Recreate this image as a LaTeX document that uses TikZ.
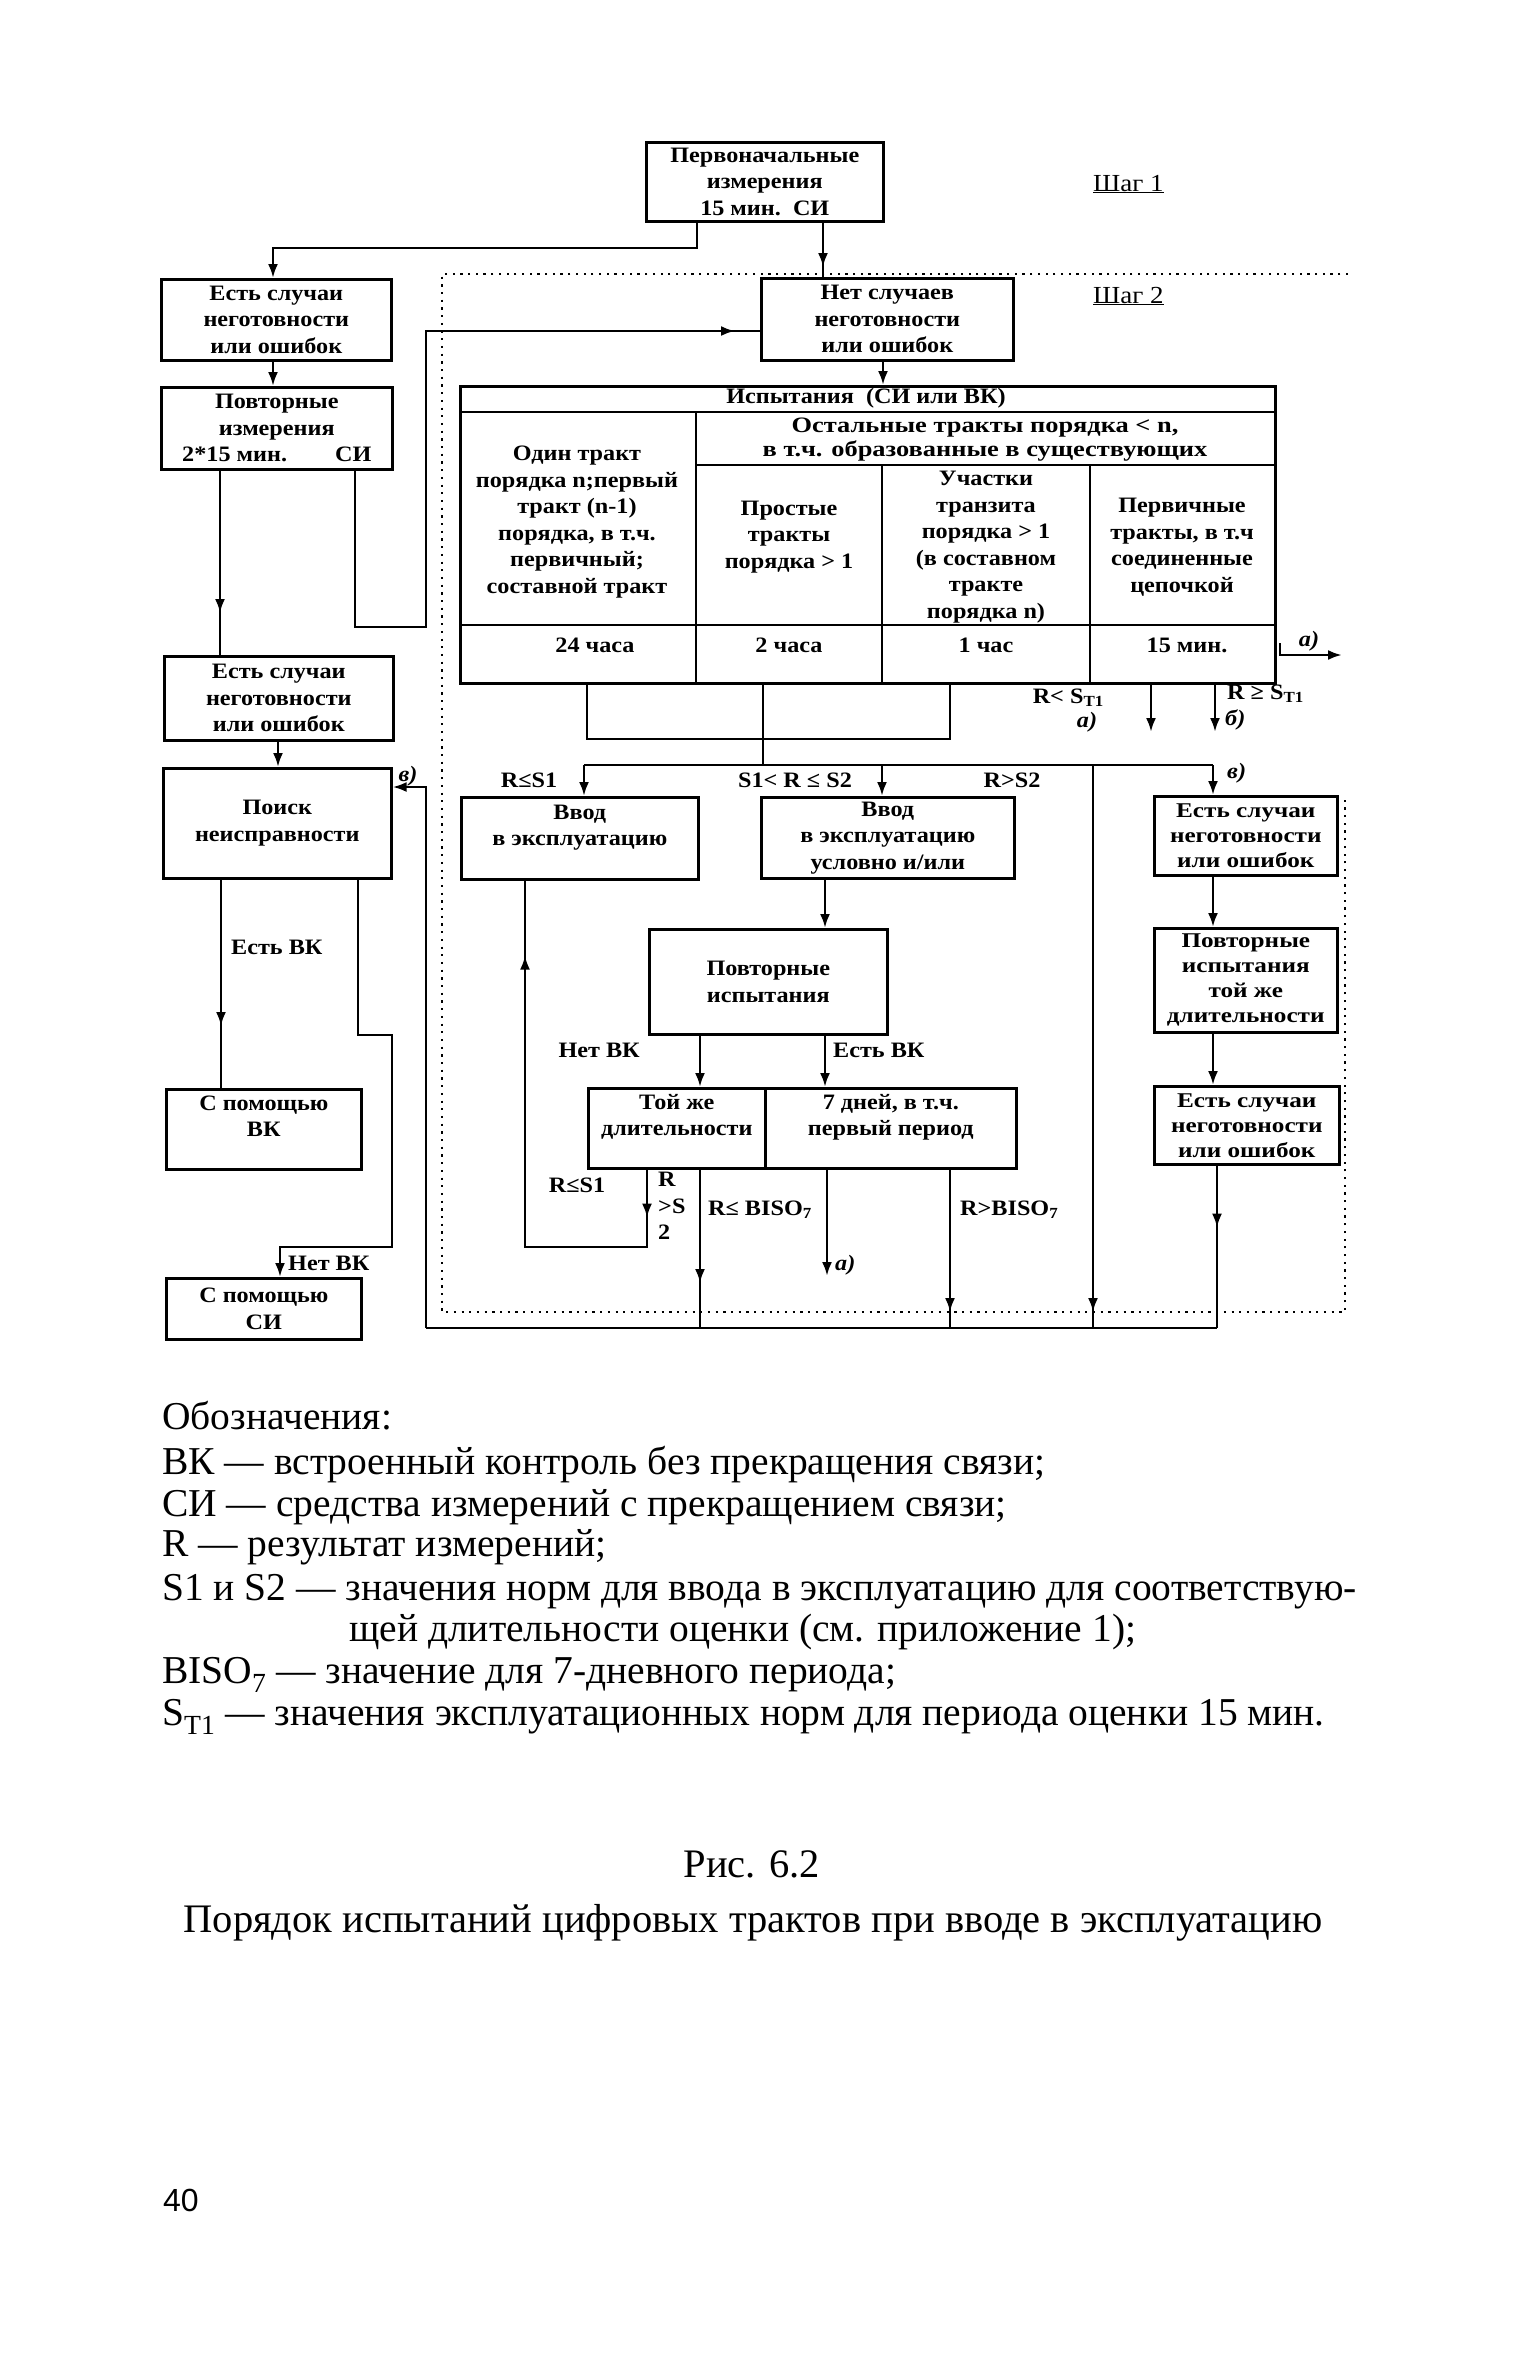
\documentclass[tikz,border=0pt]{standalone}
\usepackage{fontspec}
\setmainfont{Liberation Serif}
\newfontfamily\dfont[FakeStretch=1.1]{Liberation Serif}
\newfontfamily\dfontw[FakeStretch=1.2]{Liberation Serif}
\newfontfamily\legfont{Liberation Serif}
\newfontfamily\pagefont{Liberation Sans}
\usetikzlibrary{arrows.meta,decorations.markings}
\newcommand\bxf{\dfont\bfseries\fontsize{22}{26.5}\selectfont}
\newcommand\rbf{\dfontw\bfseries\fontsize{21}{25}\selectfont}
\newcommand\itf{\dfont\bfseries\itshape\fontsize{22}{26}\selectfont}
\newcommand\lgf{\legfont\fontsize{39.5}{42}\selectfont}
\tikzset{
  >={Latex[length=14pt,width=10pt]},
  ln/.style={line width=2.6pt},
  arr/.style={ln,->},
  midarr/.style={ln,postaction={decorate},decoration={markings,mark=at position #1 with {\arrow{>}}}},
  bx/.style={draw,line width=2.6pt,inner sep=0pt,anchor=north west,align=center,font=\bxf},
  rbx/.style={bx,font=\rbf},
  lbl/.style={inner sep=0pt,align=center,font=\bxf},
  ilbl/.style={inner sep=0pt,font=\itf},
  leg/.style={inner sep=0pt,anchor=base west,font=\lgf},
  dots/.style={line width=2.2pt,dash pattern=on 2.2pt off 5.5pt},
}
\begin{document}
\begin{tikzpicture}[x=1pt,y=-1pt]
\useasboundingbox (0,0) rectangle (1539,2367);
\fill[white] (0,0) rectangle (1539,2367);

% ---------- boxes ----------
\node[bx,minimum width=237pt,minimum height=79pt] (top) at (645,141) {Первоначальные\\измерения\\15 мин.\ \ СИ};
\node[lbl,anchor=base west,font=\dfont\fontsize{24.5}{26}\selectfont] (s1) at (1093,191) {\underline{Шаг 1}};
\node[lbl,anchor=base west,font=\dfont\fontsize{24.5}{26}\selectfont] (s2) at (1093,303) {\underline{Шаг 2}};

\node[bx,minimum width=230pt,minimum height=81pt] (l1) at (160,278) {Есть случаи\\неготовности\\или ошибок};
\node[bx,minimum width=252pt,minimum height=82pt] (no) at (760,277) {Нет случаев\\неготовности\\или ошибок};
\node[bx,minimum width=231pt,minimum height=82pt] (l2) at (160,386) {Повторные\\измерения\\2*15 мин.\hspace{48pt}СИ};
\node[bx,minimum width=229pt,minimum height=84pt] (l3) at (163,655) {Есть случаи\\неготовности\\или ошибок};
\node[bx,minimum width=228pt,minimum height=110pt] (l4) at (162,767) {Поиск\\неисправности};
\node[bx,minimum width=195pt,minimum height=80pt] (l5) at (165,1088) {С помощью\\ВК\\\mbox{}};
\node[bx,minimum width=195pt,minimum height=61pt] (l6) at (165,1277) {С помощью\\СИ};

% ---------- table ----------
\node[draw,line width=2.6pt,inner sep=0pt,anchor=north west,minimum width=815pt,minimum height=297pt] (tbl) at (459,385) {};
\draw[ln] (459,412) -- (1274,412);
\draw[ln] (696,412) -- (696,682);
\draw[ln] (696,465) -- (1274,465);
\draw[ln] (882,465) -- (882,682);
\draw[ln] (1090,465) -- (1090,682);
\draw[ln] (459,625) -- (1274,625);
\node[lbl] (th) at (866,398) {Испытания\ \ (СИ или ВК)};
\node[lbl] (c1) at (577,522) {Один тракт\\порядка n;первый\\тракт (n-1)\\порядка, в т.ч.\\первичный;\\составной тракт};
\node[lbl,font=\dfontw\bfseries\fontsize{22}{24}\selectfont] (sh) at (985,440) {Остальные тракты порядка < n,\\в т.ч. образованные в существующих};
\node[lbl] (c2) at (789,537) {Простые\\тракты\\порядка > 1};
\node[lbl] (c3) at (986,547) {Участки\\транзита\\порядка > 1\\(в составном\\тракте\\порядка n)};
\node[lbl] (c4) at (1182,547) {Первичные\\тракты, в т.ч\\соединенные\\цепочкой};
\node[lbl] (t1) at (595,645) {24 часа};
\node[lbl] (t2) at (789,645) {2 часа};
\node[lbl] (t3) at (986,645) {1 час};
\node[lbl] (t4) at (1187,645) {15 мин.};

% ---------- middle & right boxes ----------
\node[bx,minimum width=237pt,minimum height=82pt] (vv1) at (460,796) {Ввод\\в эксплуатацию\\\mbox{}};
\node[bx,minimum width=253pt,minimum height=81pt] (vv2) at (760,796) {Ввод\\в эксплуатацию\\условно и/или};
\node[bx,minimum width=238pt,minimum height=105pt] (pov) at (648,928) {Повторные\\испытания};
\node[bx,minimum width=177pt,minimum height=80pt] (tj) at (587,1087) {Той же\\длительности\\\mbox{}};
\node[bx,minimum width=251pt,minimum height=80pt] (sd) at (764,1087) {7 дней, в т.ч.\\первый период\\\mbox{}};
\node[rbx,minimum width=183pt,minimum height=79pt] (r1) at (1153,795) {Есть случаи\\неготовности\\или ошибок};
\node[rbx,minimum width=183pt,minimum height=104pt] (r2) at (1153,927) {Повторные\\испытания\\той же\\длительности};
\node[rbx,minimum width=185pt,minimum height=78pt] (r3) at (1153,1085) {Есть случаи\\неготовности\\или ошибок};

% ---------- dotted frame ----------
\draw[dots] (1348,274) -- (442,274) -- (442,1312) -- (1345,1312) -- (1345,800);

% ---------- connectors ----------
\draw[arr] (697,0 |- top.south) -- (697,248) -- (273,248) -- (273,0 |- l1.north);
\draw[midarr=-10pt] (823,0 |- top.south) -- (823,0 |- no.north);
\draw[arr] (273,0 |- l1.south) -- (273,0 |- l2.north);
\draw[midarr=-42pt] (220,0 |- l2.south) -- (220,0 |- l3.north);
\draw[midarr=-25pt] (355,0 |- l2.south) -- (355,627) -- (426,627) -- (426,331) -- (no.west |- 0,331);
\draw[arr] (278,0 |- l3.south) -- (278,0 |- l4.north);
\draw[midarr=-62pt] (221,0 |- l4.south) -- (221,0 |- l5.north);
\draw[arr] (358,0 |- l4.south) -- (358,1035) -- (392,1035) -- (392,1247) -- (280,1247) -- (280,0 |- l6.north);
\draw[arr] (883,0 |- no.south) -- (883,0 |- tbl.north);

\coordinate (aout) at (1342,655);
\draw[arr] (1280,643) -- (1280,655) -- (aout);

\draw[ln] (587,0 |- tbl.south) -- (587,739) -- (950,739) -- (950,0 |- tbl.south);
\draw[ln] (763,0 |- tbl.south) -- (763,765);
\draw[ln] (584,765) -- (1213,765);
\draw[arr] (584,765) -- (584,0 |- vv1.north);
\draw[arr] (882,765) -- (882,0 |- vv2.north);
\draw[arr] (1213,765) -- (1213,0 |- r1.north);
\draw[midarr=-16pt] (1093,765) -- (1093,1328);
\coordinate (ea) at (1151,732);
\coordinate (eb) at (1215,732);
\draw[arr] (1151,0 |- tbl.south) -- (ea);
\draw[arr] (1215,0 |- tbl.south) -- (eb);

\draw[arr] (1213,0 |- r1.south) -- (1213,0 |- r2.north);
\draw[arr] (1213,0 |- r2.south) -- (1213,0 |- r3.north);
\draw[midarr=62pt] (1217,0 |- r3.south) -- (1217,1328);

\draw[ln] (426,1328) -- (1217,1328);
\draw[arr] (426,1328) -- (426,787) -- (l4.east |- 0,787);

\draw[arr] (825,0 |- vv2.south) -- (825,0 |- pov.north);
\draw[arr] (700,0 |- pov.south) -- (700,0 |- tj.north);
\draw[arr] (825,0 |- pov.south) -- (825,0 |- sd.north);
\draw[ln,postaction={decorate},decoration={markings,mark=at position 48pt with {\arrow{>}},mark=at position -75pt with {\arrow{>}}}]
  (647,0 |- tj.south) -- (647,1247) -- (525,1247) -- (525,0 |- vv1.south);
\draw[midarr=-45pt] (700,0 |- tj.south) -- (700,1328);
\coordinate (ec) at (827,1276);
\draw[arr] (827,0 |- sd.south) -- (ec);
\draw[midarr=-16pt] (950,0 |- sd.south) -- (950,1328);

% ---------- labels ----------
\node[lbl,anchor=west] (lk1) at (231,947) {Есть ВК};
\node[lbl,anchor=west] (lk2) at (288,1263) {Нет ВК};
\node[ilbl] (lv) at (408,776) {в)};
\node[ilbl] (la) at (1309,641) {а)};
\node[lbl] (q1) at (529,780) {R≤S1};
\node[lbl] (q2) at (795,780) {S1< R ≤ S2};
\node[lbl] (q3) at (1012,780) {R>S2};
\node[lbl,anchor=east] (q4) at (1104,698) {R< S\textsubscript{T1}};
\node[ilbl] (q5) at (1087,722) {а)};
\node[lbl,anchor=west] (q6) at (1227,694) {R ≥ S\textsubscript{T1}};
\node[ilbl,anchor=west] (q7) at (1225,720) {б)};
\node[ilbl,anchor=west] (q8) at (1227,773) {в)};
\node[lbl,anchor=east] (m1) at (640,1050) {Нет ВК};
\node[lbl,anchor=west] (m2) at (833,1050) {Есть ВК};
\node[lbl] (m3) at (577,1185) {R≤S1};
\node[lbl,anchor=north west,align=left] (m4) at (658,1172) {R\\>S\\2};
\node[lbl,anchor=west] (m5) at (708,1210) {R≤ BISO\textsubscript{7}};
\node[ilbl,anchor=west] (m6) at (835,1265) {а)};
\node[lbl,anchor=west] (m7) at (960,1210) {R>BISO\textsubscript{7}};

% ---------- legend ----------
\node[leg] (g1) at (162,1429) {Обозначения:};
\node[leg] (g2) at (162,1474) {ВК — встроенный контроль без прекращения связи;};
\node[leg] (g3) at (162,1516) {СИ — средства измерений с прекращением связи;};
\node[leg] (g4) at (162,1556) {R — результат измерений;};
\node[leg] (g5) at (162,1600) {S1 и S2 — значения норм для ввода в эксплуатацию для соответствую-};
\node[leg] (g6) at (349,1641) {щей длительности оценки (см. приложение 1);};
\node[leg] (g7) at (162,1683) {BISO\textsubscript{7} — значение для 7-дневного периода;};
\node[leg] (g8) at (162,1725) {S\textsubscript{T1} — значения эксплуатационных норм для периода оценки 15 мин.};

\node[leg,anchor=base,font=\legfont\fontsize{40.5}{42}\selectfont] (cap1) at (752,1877) {Рис. 6.2};
\node[leg,anchor=base,font=\legfont\fontsize{40.5}{42}\selectfont] (cap2) at (753,1932) {Порядок испытаний цифровых трактов при вводе в эксплуатацию};
\node[inner sep=0pt,anchor=base west,font=\pagefont\fontsize{32}{36}\selectfont] (pg) at (163,2211) {40};
\end{tikzpicture}
\end{document}
